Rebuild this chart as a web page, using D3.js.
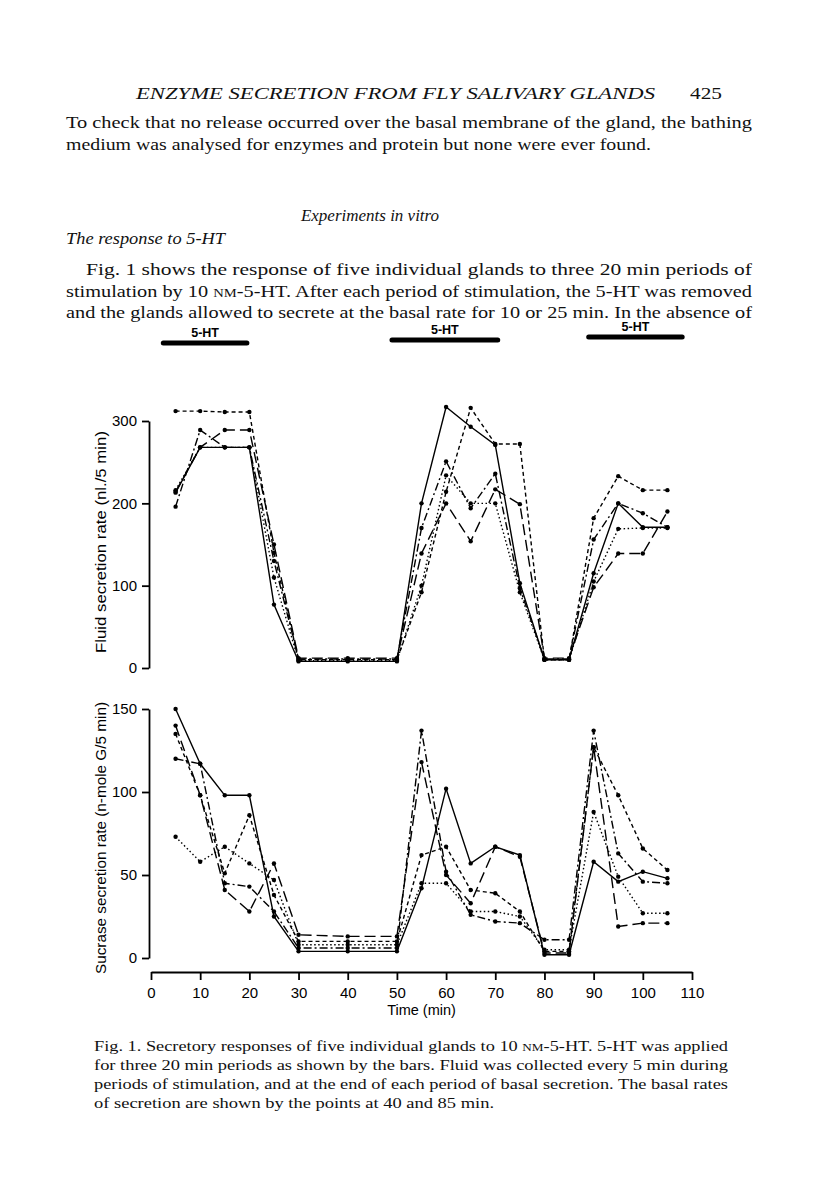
<!DOCTYPE html>
<html>
<head>
<meta charset="utf-8">
<script src="https://cdn.jsdelivr.net/npm/d3@7"></script>
<style>
  html, body { margin: 0; padding: 0; background: #fff; }
  svg { display: block; }
</style>
</head>
<body>
<svg id="page" width="816" height="1181"></svg>
<script>
// ---------- DATA ----------
const times = [5, 10, 15, 20, 25, 30, 40, 50, 55, 60, 65, 70, 75, 80, 85, 90, 95, 100, 105];

// Fluid secretion rate (nl./5 min), five glands
const fluidSolid     = [213, 268, 268, 268,  77,  8,  8,  8, 200, 317, 293, 271, 103, 10, 10, 115, 200, 171, 171];
const fluidShortDash = [312, 312, 311, 311, 140, 10, 10, 10,  92, 214, 316, 272, 272, 10, 10, 182, 233, 216, 216];
const fluidLongDash  = [214, 268, 289, 289, 150, 12, 12, 12, 139, 200, 154, 217, 199, 12, 12,  98, 139, 139, 190];
const fluidDotted    = [216, 268, 268, 268, 110,  9,  9,  9, 100, 234, 200, 200,  92, 10, 10, 105, 169, 170, 170];
const fluidDashDot   = [196, 289, 268, 268, 130, 11, 11, 11, 170, 251, 194, 236,  97, 11, 11, 156, 200, 188, 171];

// Sucrase secretion rate (n-mole G/5 min), five glands
const sucSolid     = [150, 117, 98, 98, 25,  4,  4,  4,  42, 102, 57, 67, 62,  2,  2,  58, 46, 52, 48];
const sucShortDash = [135,  98, 51, 86, 38, 10, 10, 10,  62,  67, 41, 39, 28,  4,  4, 127, 98, 66, 53];
const sucLongDash  = [140,  98, 41, 28, 57, 14, 13, 13, 118,  50, 33, 67, 61,  3,  3, 127, 19, 21, 21];
const sucDotted    = [ 73,  58, 67, 57, 47,  8,  8,  8,  45,  45, 28, 28, 25,  5,  5,  88, 49, 27, 27];
const sucDashDot   = [120, 117, 45, 43, 28,  6,  6,  6, 137,  52, 26, 22, 21, 11, 11, 137, 63, 46, 45];

// 5-HT application bars (min)
const stimStart = [2.5, 49, 89];
const stimEnd   = [19.5, 70.5, 108];
const stimLabel = ["5-HT", "5-HT", "5-HT"];

// Tick labels
const fluidTicks = [0, 100, 200, 300];
const sucTicks = [0, 50, 100, 150];
const timeTicks = [0, 10, 20, 30, 40, 50, 60, 70, 80, 90, 100, 110];

// ---------- TEXT ----------
const header = "ENZYME SECRETION FROM FLY SALIVARY GLANDS";
const pageNo = "425";

// ---------- DRAW ----------
const svg = d3.select("#page");
const serif = "'Liberation Serif', 'DejaVu Serif', serif";
const sans = "'Liberation Sans', Arial, sans-serif";

function line(txt, x, y, opts = {}) {
  const t = svg.append("text")
    .attr("x", x).attr("y", y)
    .attr("font-family", opts.family || serif)
    .attr("font-size", opts.size || 17)
    .attr("fill", "#111");
  if (opts.italic) t.attr("font-style", "italic");
  if (opts.anchor) t.attr("text-anchor", opts.anchor);
  if (opts.len) t.attr("textLength", opts.len).attr("lengthAdjust", "spacingAndGlyphs");
  if (Array.isArray(txt)) {
    txt.forEach(p => {
      const s = t.append("tspan").text(p.t);
      if (p.small) s.attr("font-size", (opts.size || 17) * 0.72);
    });
  } else t.text(txt);
  return t;
}

// header
line(header, 136, 99, { italic: true, size: 17, len: 519 });
line(pageNo, 690, 99, { size: 17, len: 32 });

// body
line("To check that no release occurred over the basal membrane of the gland, the bathing", 66, 128, { len: 686 });
line("medium was analysed for enzymes and protein but none were ever found.", 66, 150, { len: 585 });
line("Experiments in vitro", 370, 221, { italic: true, anchor: "middle" });
line("The response to 5-HT", 66, 244, { italic: true, len: 159 });
line("Fig. 1 shows the response of five individual glands to three 20 min periods of", 86, 275, { len: 666 });
line([{t: "stimulation by 10 "}, {t: "NM", small: true}, {t: "-5-HT. After each period of stimulation, the 5-HT was removed"}], 66, 297, { len: 686 });
line("and the glands allowed to secrete at the basal rate for 10 or 25 min. In the absence of", 66, 318, { len: 686 });

// caption
const cs = 15;
line([{t: "Fig. 1. Secretory responses of five individual glands to 10 "}, {t: "NM", small: true}, {t: "-5-HT. 5-HT was applied"}], 94, 1051, { size: cs, len: 634 });
line("for three 20 min periods as shown by the bars. Fluid was collected every 5 min during", 94, 1070, { size: cs, len: 634 });
line("periods of stimulation, and at the end of each period of basal secretion. The basal rates", 94, 1089, { size: cs, len: 634 });
line("of secretion are shown by the points at 40 and 85 min.", 94, 1108, { size: cs, len: 400 });

// scales
const x = d3.scaleLinear().domain([0, 110]).range([151, 692]);
const yTop = d3.scaleLinear().domain([0, 300]).range([668, 421]);
const yBot = d3.scaleLinear().domain([0, 150]).range([958, 709]);

// stimulation bars
const barY = [343, 340, 337];
stimStart.forEach((s, i) => {
  svg.append("line")
    .attr("x1", x(s)).attr("x2", x(stimEnd[i]))
    .attr("y1", barY[i]).attr("y2", barY[i])
    .attr("stroke", "#000").attr("stroke-width", 5).attr("stroke-linecap", "round");
  svg.append("text")
    .attr("x", (x(s) + x(stimEnd[i])) / 2).attr("y", barY[i] - 6)
    .attr("text-anchor", "middle")
    .attr("font-family", sans).attr("font-size", 12.5).attr("font-weight", "bold")
    .text(stimLabel[i]);
});

// axes
function styleAxis(g) {
  g.selectAll("path, line").attr("stroke", "#000").attr("stroke-width", 1.8);
  g.selectAll("text").attr("font-family", sans).attr("font-size", 15).attr("fill", "#000");
}
svg.append("g").attr("transform", "translate(149,0)")
  .call(d3.axisLeft(yTop).tickValues(fluidTicks).tickSize(7).tickSizeOuter(0).tickPadding(5))
  .call(styleAxis);
svg.append("g").attr("transform", "translate(149,0)")
  .call(d3.axisLeft(yBot).tickValues(sucTicks).tickSize(7).tickSizeOuter(0).tickPadding(5))
  .call(styleAxis);
svg.append("g").attr("transform", "translate(0,972)")
  .call(d3.axisBottom(x).tickValues(timeTicks).tickSize(8).tickSizeOuter(0).tickPadding(7))
  .call(styleAxis);

// axis titles
svg.append("text").attr("transform", "translate(106,542) rotate(-90)")
  .attr("text-anchor", "middle").attr("font-family", sans).attr("font-size", 14.5)
  .attr("textLength", 222).attr("lengthAdjust", "spacingAndGlyphs")
  .text("Fluid secretion rate  (nl./5 min)");
svg.append("text").attr("transform", "translate(106,838) rotate(-90)")
  .attr("text-anchor", "middle").attr("font-family", sans).attr("font-size", 14.5)
  .attr("textLength", 272).attr("lengthAdjust", "spacingAndGlyphs")
  .text("Sucrase secretion rate (n-mole G/5 min)");
svg.append("text").attr("x", x(55)).attr("y", 1015)
  .attr("text-anchor", "middle").attr("font-family", sans).attr("font-size", 14.5)
  .text("Time (min)");

// series
const dashes = { solid: null, shortDash: "4,3", longDash: "11,5", dotted: "1.5,2.5", dashDot: "8,3,2,3" };
const fluidSeries = [
  { v: fluidSolid, d: "solid" }, { v: fluidShortDash, d: "shortDash" }, { v: fluidLongDash, d: "longDash" },
  { v: fluidDotted, d: "dotted" }, { v: fluidDashDot, d: "dashDot" }
];
const sucSeries = [
  { v: sucSolid, d: "solid" }, { v: sucShortDash, d: "shortDash" }, { v: sucLongDash, d: "longDash" },
  { v: sucDotted, d: "dotted" }, { v: sucDashDot, d: "dashDot" }
];

function drawSeries(series, y) {
  series.forEach(s => {
    const pts = times.map((t, i) => [t, s.v[i]]);
    svg.append("path")
      .attr("d", d3.line().x(d => x(d[0])).y(d => y(d[1]))(pts))
      .attr("fill", "none").attr("stroke", "#000").attr("stroke-width", 1.4)
      .attr("stroke-dasharray", dashes[s.d]);
    svg.append("g").selectAll("circle").data(pts).join("circle")
      .attr("cx", d => x(d[0])).attr("cy", d => y(d[1])).attr("r", 2.2).attr("fill", "#000");
  });
}
drawSeries(fluidSeries, yTop);
drawSeries(sucSeries, yBot);
</script>
</body>
</html>
